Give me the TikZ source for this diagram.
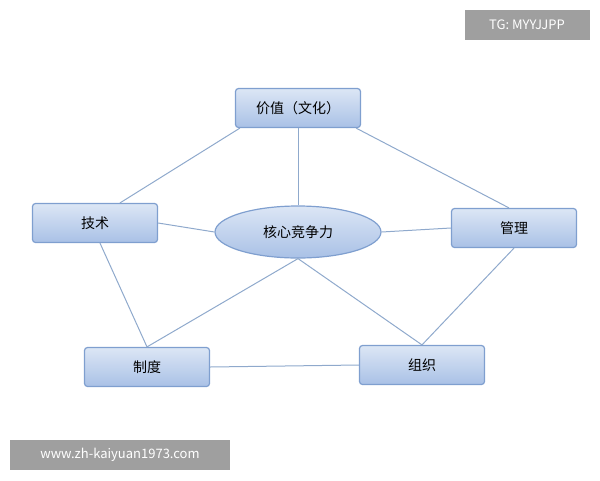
\documentclass[tikz,border=0pt]{standalone}
\usepackage{fontspec}
\setmainfont{Noto Sans CJK SC}
\usetikzlibrary{shapes.geometric}
\definecolor{bord}{HTML}{7F9FCF}
\definecolor{topc}{HTML}{DCE6F5}
\definecolor{botc}{HTML}{A9C1E6}
\definecolor{ln}{HTML}{8FA9CC}
\tikzset{
 box/.style={draw=bord,line width=1.2pt,rounded corners=3pt,top color=topc,bottom color=botc,minimum width=125pt,minimum height=39pt,font=\fontsize{14}{16}\selectfont},
 core/.style={ellipse,draw=bord,line width=1.2pt,top color=topc,bottom color=botc,minimum width=166pt,minimum height=52pt,font=\fontsize{14}{16}\selectfont},
 conn/.style={draw=ln,line width=1pt},
 tag/.style={fill=gray!75,text=white,font=\fontsize{13}{15}\selectfont}
}
\begin{document}
\begin{tikzpicture}[x=1pt,y=-1pt]
\useasboundingbox (0,0) rectangle (600,480);
\node[box] (v) at (298,108) {价值（文化）};
\node[box] (j) at (95,223) {技术};
\node[box] (g) at (514,228) {管理};
\node[core] (c) at (298,232) {核心竞争力};
\node[box] (z) at (147,367) {制度};
\node[box] (o) at (422,365) {组织};
\node[tag,minimum width=125pt,minimum height=30pt] (t) at (527,25) {TG: MYYJJPP};
\node[tag,minimum width=220pt,minimum height=30pt] (w) at (120,455) {www.zh-kaiyuan1973.com};
\begin{scope}[on background layer/.try]
\end{scope}
\draw[conn] (v.south) -- (c.north);
\draw[conn] (v.south west) ++(5,0) coordinate (a1) -- ([xshift=25pt]j.north);
\draw[conn] ([xshift=-5pt]v.south east) -- ([xshift=-5pt]g.north);
\draw[conn] (j.east) -- (c.west);
\draw[conn] (c.east) -- (g.west);
\draw[conn] ([xshift=5pt]j.south) -- (z.north);
\draw[conn] (g.south) -- (o.north);
\draw[conn] (c.south) -- (z.north);
\draw[conn] (c.south) -- (o.north);
\draw[conn] (z.east) -- (o.west);
\end{tikzpicture}
\end{document}
